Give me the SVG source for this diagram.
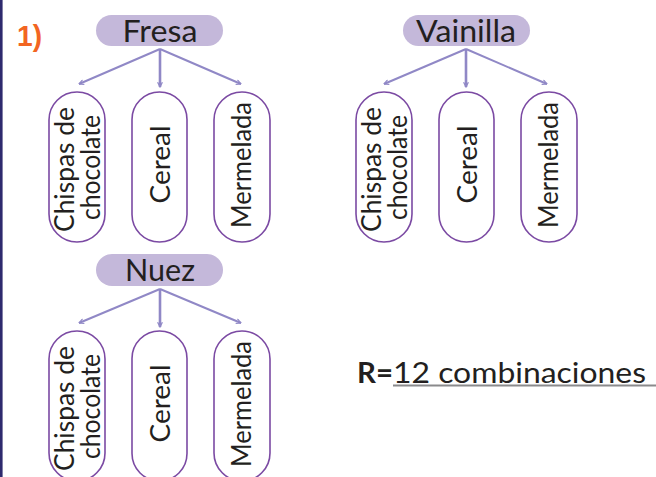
<svg xmlns="http://www.w3.org/2000/svg" width="656" height="477" viewBox="0 0 656 477">
<style>
.pill{fill:#c4b8da}
.box{fill:#ffffff;stroke:#7b4aa3;stroke-width:1.6}
.t{font-family:Lato,"Liberation Sans",sans-serif;fill:#231f20;text-anchor:middle}
.h{font-size:30px}
.v{font-size:26px}
.c{stroke:#9088c6;stroke-width:2;fill:none;marker-end:url(#ah)}
.cm{stroke:#9088c6;stroke-width:2.6;fill:none;marker-end:url(#ah)}
</style>
<defs>
<marker id="ah" viewBox="0 0 10 10" refX="9" refY="5" markerWidth="6" markerHeight="6" markerUnits="userSpaceOnUse" orient="auto">
<polyline points="1,1 9,5 1,9" fill="none" stroke="#9088c6" stroke-width="2"/>
</marker>
<g id="tree">
<rect class="box" x="49" y="92" width="56" height="150" rx="28"/>
<rect class="box" x="132" y="92" width="55" height="150" rx="27.5"/>
<rect class="box" x="214" y="92" width="56" height="150" rx="28"/>
<text class="t v" transform="translate(74,169.5) rotate(-90)" textLength="125" lengthAdjust="spacingAndGlyphs">Chispas de</text>
<text class="t v" transform="translate(100,167.5) rotate(-90)" textLength="105" lengthAdjust="spacingAndGlyphs">chocolate</text>
<text class="t v" transform="translate(170,164.5) rotate(-90)" textLength="78" lengthAdjust="spacingAndGlyphs">Cereal</text>
<text class="t v" transform="translate(251,165) rotate(-90)" textLength="126" lengthAdjust="spacingAndGlyphs">Mermelada</text>
</g>
</defs>
<rect x="0" y="0" width="656" height="477" fill="#ffffff"/>
<line x1="1.3" y1="0" x2="1.3" y2="477" stroke="#2e2a6e" stroke-width="2.6"/>
<text x="17" y="46" font-family="Liberation Sans,Arial,sans-serif" font-weight="bold" font-size="29" fill="#f26522" textLength="25" lengthAdjust="spacingAndGlyphs">1)</text>

<g id="connectors">
<line class="c" x1="160" y1="49" x2="79" y2="84"/>
<line class="cm" x1="160" y1="49" x2="160" y2="87"/>
<line class="c" x1="160" y1="49" x2="241" y2="84"/>
<line class="c" x1="466" y1="49" x2="384" y2="84"/>
<line class="cm" x1="466" y1="49" x2="466" y2="87"/>
<line class="c" x1="466" y1="49" x2="547" y2="84"/>
<line class="c" x1="160" y1="289" x2="79" y2="323"/>
<line class="cm" x1="160" y1="289" x2="160" y2="327"/>
<line class="c" x1="160" y1="289" x2="241" y2="323"/>
</g>

<g id="fresa">
<rect class="pill" x="96" y="15" width="127" height="31" rx="15.5"/>
<text class="t h" x="160" y="42" textLength="75" lengthAdjust="spacingAndGlyphs">Fresa</text>
</g>
<g id="fresa-opciones"><use href="#tree"/></g>

<g id="vainilla">
<rect class="pill" x="403" y="15" width="127" height="31" rx="15.5"/>
<text class="t h" x="466" y="42" textLength="100" lengthAdjust="spacingAndGlyphs">Vainilla</text>
</g>
<g id="vainilla-opciones"><use href="#tree" transform="translate(307,0)"/></g>

<g id="nuez">
<rect class="pill" x="96" y="254" width="127" height="32" rx="16"/>
<text class="t h" x="160" y="281" textLength="70" lengthAdjust="spacingAndGlyphs">Nuez</text>
</g>
<g id="nuez-opciones"><use href="#tree" transform="translate(0,239)"/></g>

<g id="respuesta">
<text x="357" y="383" font-family="Lato,Liberation Sans,sans-serif" font-size="29" font-weight="bold" fill="#231f20" textLength="36" lengthAdjust="spacingAndGlyphs">R=</text>
<text x="393" y="383" font-family="Lato,Liberation Sans,sans-serif" font-size="29" fill="#231f20" textLength="253" lengthAdjust="spacingAndGlyphs">12 combinaciones</text>
<line x1="393" y1="385.5" x2="656" y2="385.5" stroke="#8a8a8c" stroke-width="2.2"/>
</g>
</svg>
